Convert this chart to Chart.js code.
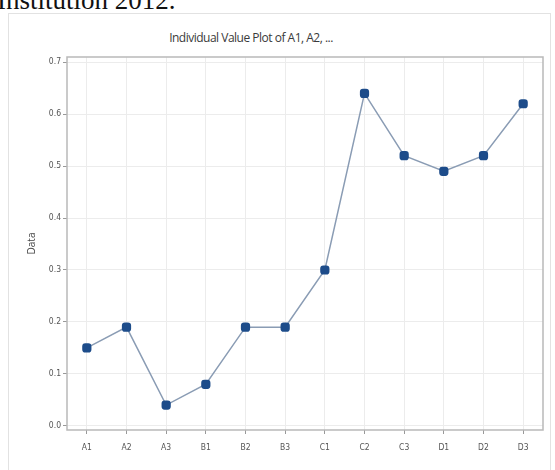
<!DOCTYPE html>
<html>
<head>
<meta charset="utf-8">
<script src="https://cdn.jsdelivr.net/npm/chart.js@4"></script>
<style>
  body { margin: 0; background: #fff; width: 555px; height: 470px; overflow: hidden; position: relative; }
  #caption { position: absolute; left: -3px; top: -15px; font: 27px "Liberation Serif", serif; color: #111; white-space: nowrap; }
  #panel { position: absolute; left: 8px; top: 13px; width: 543px; height: 460px; border: 1px solid #e2e2e2; box-sizing: border-box; }
  #title { position: absolute; left: 6px; width: 490px; top: 29px; text-align: center; font: 12px "Open Sans", sans-serif; color: #3a3a3a; letter-spacing: -0.5px; }
  #wrap { position: absolute; left: 0; top: 0; width: 555px; height: 470px; }
</style>
</head>
<body>
<div id="caption">Institution 2012.</div>
<div id="panel"></div>
<div id="title">Individual Value Plot of A1, A2, ...</div>
<div id="wrap"><canvas id="chart" width="555" height="470"></canvas></div>
<script>
  const groups = ["A1", "A2", "A3", "B1", "B2", "B3", "C1", "C2", "C3", "D1", "D2", "D3"];
  const values = [0.15, 0.19, 0.04, 0.08, 0.19, 0.19, 0.30, 0.64, 0.52, 0.49, 0.52, 0.62];
  const yTicks = [0, 0.1, 0.2, 0.3, 0.4, 0.5, 0.6, 0.7];

  // frame around the plotting region
  const frame = {
    id: "frame",
    afterDraw(chart) {
      const { ctx, chartArea: a } = chart;
      ctx.save();
      ctx.strokeStyle = "#b9b9b9";
      ctx.lineWidth = 1.5;
      ctx.strokeRect(a.left, a.top, a.right - a.left, a.bottom - a.top);
      ctx.restore();
    },
  };

  new Chart(document.getElementById("chart"), {
    type: "line",
    data: {
      labels: groups,
      datasets: [{
        data: values,
        borderColor: "#8a9cb4",
        borderWidth: 1.5,
        pointStyle: "rectRounded",
        pointRadius: 4.5,
        pointBackgroundColor: "#1d4c8a",
        pointBorderColor: "#1d4c8a",
        tension: 0,
      }],
    },
    options: {
      responsive: false,
      animation: false,
      devicePixelRatio: 1,
      layout: { padding: { top: 57, right: 12, left: 0, bottom: 0 } },
      plugins: { legend: { display: false }, tooltip: { enabled: false } },
      scales: {
        x: {
          offset: true,
          grid: { offset: false, color: "#ececec", tickColor: "#999", tickLength: 4 },
          border: { display: false },
          ticks: { color: "#555", font: { family: "DejaVu Sans Condensed", size: 8.5 }, padding: 9, maxRotation: 0 },
          afterFit: (s) => { s.height = 40; },
        },
        y: {
          min: -0.008,
          max: 0.71,
          afterBuildTicks: (s) => { s.ticks = yTicks.map((v) => ({ value: v })); },
          grid: { color: "#ececec", tickColor: "#999", tickLength: 4 },
          border: { display: false },
          ticks: {
            color: "#555",
            font: { family: "DejaVu Sans Condensed", size: 8.5 },
            padding: 2,
            callback: (v) => v.toFixed(1),
          },
          title: { display: true, text: "Data", color: "#444", font: { family: "Open Sans", size: 10 }, padding: { top: 26, bottom: 0 } },
          afterFit: (s) => { s.width = 67; },
        },
      },
    },
    plugins: [frame],
  });
</script>
</body>
</html>
